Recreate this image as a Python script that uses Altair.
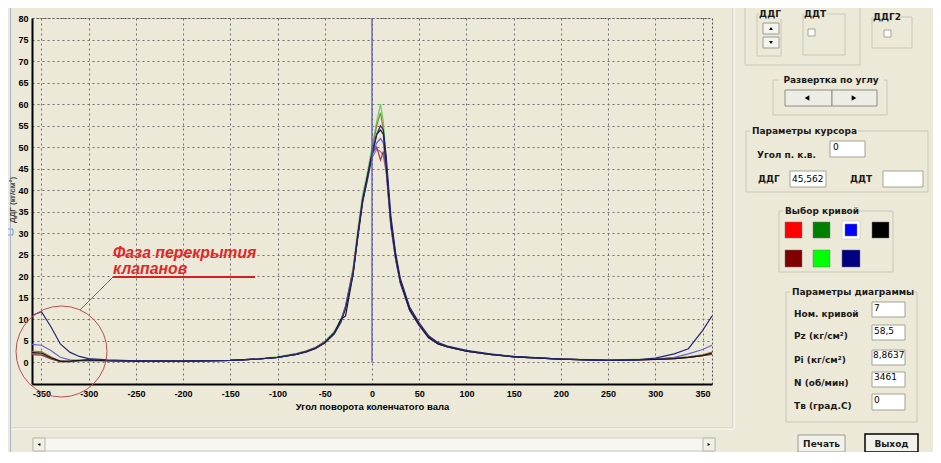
import altair as alt
import pandas as pd

# ---------------- data ----------------
ANGLE = [-360, -350, -340, -330, -320, -310, -300,
         -280, -250, -200, -150, -120, -100,
         -80, -70, -60, -50, -40, -33, -28,
         -20, -15, -10, -5, 0,
         5, 9, 12, 15, 20, 25, 30,
         40, 50, 60, 70, 80, 100,
         125, 150, 200, 250, 280,
         300, 320, 335, 350, 360]

CURVE_LIME = [2.0, 1.9, 0.9, 0.2, 0.2, 0.4, 0.5,
              0.4, 0.3, 0.3, 0.5, 0.9, 1.3,
              2.1, 2.7, 3.5, 4.9, 7.2, 9.9, 13.2,
              22, 31, 39, 44, 50,
              56, 60, 56, 47, 33, 25, 19,
              12.5, 8.8, 5.9, 4.4, 3.7, 2.7,
              1.9, 1.4, 0.8, 0.6, 0.7,
              0.8, 1.0, 1.3, 1.7, 2.1]
CURVE_OLIVE = [2.6, 2.5, 1.3, 0.3, 0.2, 0.4, 0.6,
               0.4, 0.3, 0.3, 0.5, 0.8, 1.2,
               2.0, 2.6, 3.4, 4.8, 7.0, 9.7, 13.0,
               21.5, 30, 38, 43, 49,
               55, 58, 54, 46, 32, 24, 18.5,
               12.0, 8.6, 5.7, 4.3, 3.6, 2.6,
               1.9, 1.3, 0.8, 0.5, 0.6,
               0.8, 1.0, 1.3, 1.8, 2.4]
CURVE_MAUVE = [2.2, 2.0, 1.0, 0.2, 0.2, 0.4, 0.5,
               0.4, 0.3, 0.3, 0.5, 0.8, 1.2,
               2.0, 2.6, 3.4, 4.7, 6.9, 9.6, 12.8,
               21, 29.5, 37.5, 42, 47.5,
               49.5, 49, 48, 44, 31.5, 24, 18.5,
               12.1, 8.6, 5.8, 4.3, 3.6, 2.6,
               1.9, 1.3, 0.8, 0.5, 0.6,
               0.7, 0.9, 1.2, 1.6, 2.0]
CURVE_MAROON = [1.8, 1.7, 0.8, 0.2, 0.2, 0.4, 0.5,
                0.4, 0.3, 0.3, 0.5, 0.8, 1.2,
                2.0, 2.6, 3.4, 4.8, 7.0, 9.7, 13.0,
                21.5, 30, 38, 43, 48.5,
                50, 47, 49, 45, 32, 24.5, 18.7,
                12.2, 8.7, 5.8, 4.4, 3.7, 2.6,
                1.9, 1.3, 0.8, 0.5, 0.6,
                0.7, 0.9, 1.2, 1.6, 1.9]
CURVE_BLUE = [4.2, 4.0, 2.8, 1.2, 0.6, 0.5, 0.6,
              0.4, 0.3, 0.3, 0.5, 0.8, 1.2,
              1.9, 2.5, 3.3, 4.6, 6.9, 9.6, 12.8,
              21, 29.5, 37.5, 42.5, 48,
              51, 52, 51, 45, 31.5, 24, 18.3,
              12.0, 8.5, 5.7, 4.3, 3.6, 2.6,
              1.9, 1.3, 0.8, 0.5, 0.6,
              0.8, 1.2, 2.0, 3.0, 4.0]
CURVE_BLACK = [2.3, 2.2, 1.1, 0.3, 0.3, 0.5, 0.6,
               0.4, 0.3, 0.3, 0.5, 0.8, 1.2,
               1.9, 2.5, 3.3, 4.6, 6.8, 10.0, 10.8,
               20.5, 29.5, 37.5, 43, 48.5,
               53, 54, 53, 46, 32.5, 24.5, 18.8,
               12.2, 8.7, 5.8, 4.3, 3.6, 2.6,
               1.9, 1.3, 0.8, 0.5, 0.6,
               0.7, 0.9, 1.2, 1.6, 2.2]
CURVE_NAVY = [10.9, 11.8, 8.3, 4.3, 2.4, 1.4, 0.9,
              0.6, 0.4, 0.3, 0.5, 0.8, 1.2,
              1.9, 2.4, 3.2, 4.5, 6.6, 9.3, 12.5,
              20.5, 29, 37, 42.5, 48,
              53, 55, 54, 48, 34, 25.5, 19.5,
              12.8, 9.2, 6.2, 4.6, 3.8, 2.8,
              2.0, 1.4, 0.8, 0.5, 0.6,
              1.0, 2.0, 3.2, 7.4, 10.8]

CURVE_NAMES = ["lime", "olive", "mauve", "maroon", "blue", "black", "navy"]
CURVE_COLORS = ["#5fd35f", "#8f7f35", "#9b72a8", "#9a3848", "#6464d2", "#151515", "#262670"]
CURVE_VALUES = [CURVE_LIME, CURVE_OLIVE, CURVE_MAUVE, CURVE_MAROON,
                CURVE_BLUE, CURVE_BLACK, CURVE_NAVY]

X_TICKS = [-350, -300, -250, -200, -150, -100, -50, 0, 50, 100, 150, 200, 250, 300, 350]
Y_TICKS = [0, 5, 10, 15, 20, 25, 30, 35, 40, 45, 50, 55, 60, 65, 70, 75, 80]
CURSOR_ANGLE = [0]
CURSOR_FROM = [0]
CURSOR_TO = [80]

rows = []
for name, vals in zip(CURVE_NAMES, CURVE_VALUES):
    for a, v in zip(ANGLE, vals):
        rows.append({"angle": a, "value": v, "curve": name})
df_lines = pd.DataFrame(rows)
df_cursor = pd.DataFrame({"angle": CURSOR_ANGLE, "value": CURSOR_FROM, "hi": CURSOR_TO})

# ---------------- layout (screen pixels) ----------------
PW, PH = 680, 366
PAD = {"left": 24, "top": 10, "right": 221, "bottom": 68}
OX, OY = 8 + PAD["left"], 8 + PAD["top"]
BG = "#ECE9D8"
EDGE = "#c9c7b8"
BOXE = "#a5a393"

RECTS = [
    # scrollbar
    (33, 438, 715, 451, "#f6f5f0", "#d3d1c3", 1),
    (33, 438, 45, 451, "#f1efe6", "#b9b7a8", 1),
    (703, 438, 715, 451, "#f1efe6", "#b9b7a8", 1),
    # group boxes
    (745, -4, 860, 65, "transparent", EDGE, 1),
    (757, 14, 781, 56, "transparent", EDGE, 1),
    (803, 14, 845, 55, "transparent", EDGE, 1),
    (872, 17, 912, 48, "transparent", EDGE, 1),
    (773, 80, 887, 115, "transparent", EDGE, 1),
    (746, 131, 928, 192, "transparent", EDGE, 1),
    (779, 211, 893, 272, "transparent", EDGE, 1),
    (786, 292, 917, 422, "transparent", EDGE, 1),
    # label backgrounds
    (759, 9, 782, 19, BG, "transparent", 0),
    (804, 9, 827, 19, BG, "transparent", 0),
    (873, 12, 901, 22, BG, "transparent", 0),
    (779, 75, 884, 85, BG, "transparent", 0),
    (750, 126, 858, 136, BG, "transparent", 0),
    (783, 206, 859, 216, BG, "transparent", 0),
    (790, 287, 914, 297, BG, "transparent", 0),
    # spin buttons
    (763, 23, 779, 34, "#f4f3ee", "#9d9b8c", 1),
    (763, 37, 779, 48, "#f4f3ee", "#9d9b8c", 1),
    # check boxes
    (808, 29, 815, 36, "#ffffff", BOXE, 1),
    (884, 30, 891, 37, "#ffffff", BOXE, 1),
    # sweep buttons
    (785, 90, 832, 106, "#eeede5", "#8f8d80", 1),
    (832, 90, 877, 106, "#eeede5", "#8f8d80", 1),
    # cursor text boxes
    (830, 141, 865, 157, "#ffffff", BOXE, 1),
    (790, 171, 826, 187, "#ffffff", BOXE, 1),
    (883, 171, 923, 187, "#ffffff", BOXE, 1),
    # colour chooser
    (785, 222, 802, 238, "#ff0000", "#777777", 0.5),
    (813, 222, 830, 238, "#008000", "#777777", 0.5),
    (842, 221, 860, 239, "#ffffff", "#b8b8b8", 0.5),
    (845, 224, 857, 236, "#0000ff", "#777777", 0.5),
    (872, 222, 889, 238, "#000000", "#777777", 0.5),
    (785, 250, 802, 267, "#800000", "#777777", 0.5),
    (813, 250, 830, 267, "#00ff00", "#777777", 0.5),
    (842, 250, 860, 267, "#000080", "#777777", 0.5),
    # diagram parameter boxes
    (872, 302, 905, 317, "#ffffff", BOXE, 1),
    (872, 325, 905, 340, "#ffffff", BOXE, 1),
    (872, 350, 905, 365, "#ffffff", BOXE, 1),
    (872, 372, 905, 387, "#ffffff", BOXE, 1),
    (872, 394, 905, 410, "#ffffff", BOXE, 1),
    # buttons
    (798, 435, 845, 452, "#f3f2ea", "#9c9a8d", 1),
    (865, 434, 918, 452, "#f3f2ea", "#000000", 1.5),
    # selection handle
    (7, 229, 13, 235, "#dfe8f5", "#7f9db9", 1),
]

LINES = [
    (8, 3, 933, 3, "#a7b8cc", 1),
    (10.5, 3, 10.5, 455, "#a7b8cc", 1),
    (11, 428, 733, 428, EDGE, 1),
    (11, 429, 733, 429, "#ffffff", 1),
    (733, 3, 733, 428, EDGE, 1),
    (734, 3, 734, 429, "#ffffff", 1),
    # annotation leader and underline
    (80, 310, 113, 277, "#b85050", 1),
    (113, 277, 255, 277, "#d42020", 2),
]

TRIANGLES = [
    (771, 28.5, "triangle-up", 14),
    (771, 42.5, "triangle-down", 14),
    (807, 98, "triangle-left", 28),
    (854, 98, "triangle-right", 28),
    (39, 444.5, "triangle-left", 10),
    (709, 444.5, "triangle-right", 10),
]

TEXT_BOLD_LEFT = [
    ("Параметры курсора", 752, 131),
    ("Угол п. к.в.", 757, 155),
    ("ДДГ", 758, 179),
    ("ДДТ", 850, 179),
    ("Выбор кривой", 785, 211),
    ("Параметры диаграммы", 792, 292),
    ("Ном. кривой", 794, 314),
    ("Pz (кг/см²)", 794, 336),
    ("Pi (кг/см²)", 794, 360),
    ("N (об/мин)", 794, 383),
    ("Тв (град.С)", 794, 406),
]
TEXT_BOLD_CENTER = [
    ("ДДГ", 770, 14),
    ("ДДТ", 815, 14),
    ("ДДГ2", 887, 17),
    ("Развертка по углу", 831, 80),
    ("Печать", 821.5, 444),
    ("Выход", 891.5, 444),
]
TEXT_PLAIN = [
    ("0", 833, 147),
    ("45,562", 792, 179),
    ("7", 874, 308),
    ("58,5", 874, 331),
    ("8,8637", 873, 355),
    ("3461", 874, 377),
    ("0", 874, 400),
]
TEXT_NOTE = [
    ("Фаза перекрытия", 113, 258),
    ("клапанов", 113, 274),
]


def px_frame(items, cols):
    df = pd.DataFrame(items, columns=cols)
    for c in cols:
        if c.startswith("x"):
            df[c] = df[c] - OX
        elif c.startswith("y"):
            df[c] = df[c] - OY
    return df


df_rects = px_frame(RECTS, ["x1", "y1", "x2", "y2", "fill", "stroke", "sw"])
df_rules = px_frame(LINES, ["x1", "y1", "x2", "y2", "stroke", "sw"])
df_tri = px_frame(TRIANGLES, ["x", "y", "shape", "size"])

# ---------------- chart ----------------
FONT = "Liberation Sans"
UIFONT = "DejaVu Sans"


def x_axis():
    return alt.Axis(values=X_TICKS, labelExpr="'' + datum.value", grid=True,
                    gridColor="#707070", gridDash=[2, 3], gridWidth=1,
                    domainColor="#000000", domainWidth=2, ticks=False,
                    labelPadding=5, labelFont=FONT, labelFontSize=9,
                    labelFontWeight="bold", labelColor="#000000",
                    labelFlush=False, labelOverlap=False,
                    title="Угол поворота коленчатого вала", titleFont=FONT,
                    titleFontSize=9.5, titleFontWeight="bold", titleColor="#000000",
                    titlePadding=3)


def y_axis():
    return alt.Axis(values=Y_TICKS, labelExpr="'' + datum.value", grid=True,
                    gridColor="#707070", gridDash=[2, 3], gridWidth=1,
                    domainColor="#000000", domainWidth=2, ticks=False,
                    labelPadding=4, labelFont=FONT, labelFontSize=9,
                    labelFontWeight="bold", labelColor="#000000",
                    labelFlush=False, labelOverlap=False, title=None)


xs = alt.Scale(domain=[-360, 360], nice=False, zero=False)
ys = alt.Scale(domain=[-5, 80], nice=False, zero=False)

lines = alt.Chart(df_lines).mark_line(strokeWidth=1.2).encode(
    x=alt.X("angle:Q", scale=xs, axis=x_axis()),
    y=alt.Y("value:Q", scale=ys, axis=y_axis()),
    color=alt.Color("curve:N", scale=alt.Scale(domain=CURVE_NAMES, range=CURVE_COLORS),
                    legend=None),
)

cursor = alt.Chart(df_cursor).mark_rule(color="#5a5ab8", strokeWidth=1.3).encode(
    x=alt.X("angle:Q", scale=xs, axis=x_axis()),
    y=alt.Y("value:Q", scale=ys, axis=y_axis()),
    y2="hi:Q",
)

deco_rects = alt.Chart(df_rects).mark_rect().encode(
    x=alt.X("x1:Q", scale=None, axis=None), x2="x2:Q",
    y=alt.Y("y1:Q", scale=None, axis=None), y2="y2:Q",
    fill=alt.Fill("fill:N", scale=None),
    stroke=alt.Stroke("stroke:N", scale=None),
    strokeWidth=alt.StrokeWidth("sw:Q", scale=None),
)

deco_rules = alt.Chart(df_rules).mark_rule().encode(
    x=alt.X("x1:Q", scale=None, axis=None), x2="x2:Q",
    y=alt.Y("y1:Q", scale=None, axis=None), y2="y2:Q",
    stroke=alt.Stroke("stroke:N", scale=None),
    strokeWidth=alt.StrokeWidth("sw:Q", scale=None),
)

deco_tri = alt.Chart(df_tri).mark_point(filled=True, color="#000000", opacity=1).encode(
    x=alt.X("x:Q", scale=None, axis=None),
    y=alt.Y("y:Q", scale=None, axis=None),
    shape=alt.Shape("shape:N", scale=None),
    size=alt.Size("size:Q", scale=None),
)

circle = alt.Chart(pd.DataFrame({"k": [1]})).mark_point(
    shape="circle", filled=False, stroke="#b85050", strokeWidth=1, size=8281, opacity=1
).encode(x=alt.value(61.5 - OX), y=alt.value(351.5 - OY))


def text_layer(items, **kw):
    df = pd.DataFrame(items, columns=["t", "x", "y"])
    df["x"] = df["x"] - OX
    df["y"] = df["y"] - OY
    return alt.Chart(df).mark_text(**kw).encode(
        x=alt.X("x:Q", scale=None, axis=None),
        y=alt.Y("y:Q", scale=None, axis=None),
        text="t:N",
    )


t_bold_left = text_layer(TEXT_BOLD_LEFT, font=UIFONT, fontSize=9, fontWeight="bold",
                         align="left", baseline="middle", color="#1a1a1a")
t_bold_center = text_layer(TEXT_BOLD_CENTER, font=UIFONT, fontSize=9, fontWeight="bold",
                           align="center", baseline="middle", color="#1a1a1a")
t_plain = text_layer(TEXT_PLAIN, font=UIFONT, fontSize=9, align="left",
                     baseline="middle", color="#000000")
t_note = text_layer(TEXT_NOTE, font=FONT, fontSize=15.8, fontWeight="bold",
                    fontStyle="italic", align="left", baseline="alphabetic",
                    color="#e02828")
t_ytitle = text_layer([("ДДГ (кг/см²)", 13, 200)], font=FONT, fontSize=8,
                      fontWeight="bold", align="center", baseline="middle",
                      angle=270, color="#444444")

chart = alt.layer(
    lines, cursor, deco_rects, deco_rules, t_ytitle, deco_tri, circle,
    t_bold_left, t_bold_center, t_plain, t_note,
).properties(
    width=PW, height=PH,
    autosize=alt.AutoSizeParams(type="none"),
    padding=PAD,
    background=BG,
).configure_view(
    stroke="#4d4d4d", strokeDash=[2, 2], strokeWidth=1
)

chart.save("out.html", embed_options={"renderer": "svg", "actions": False})
